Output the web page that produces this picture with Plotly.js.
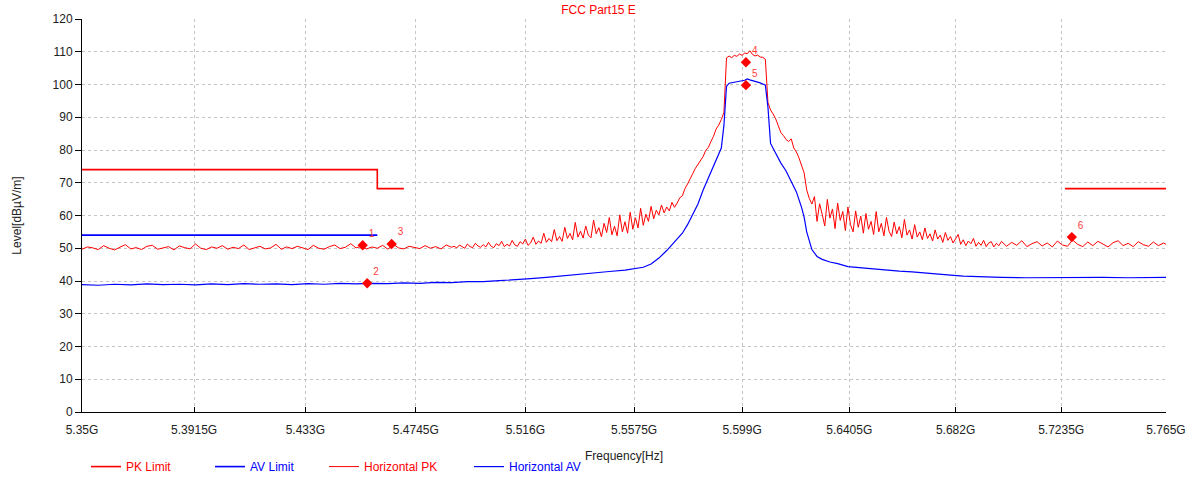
<!DOCTYPE html>
<html>
<head>
<meta charset="utf-8">
<script src="https://cdn.plot.ly/plotly-3.0.1.min.js"></script>
<style>
html,body{margin:0;padding:0;background:#fff;}
#chart{width:1197px;height:477px;}
</style>
</head>
<body>
<div id="chart"></div>
<script>
// ---- Axis ticks (frequency in MHz, log axis) ----
const xTickVals = [5350, 5391.5, 5433, 5474.5, 5516, 5557.5, 5599, 5640.5, 5682, 5723.5, 5765];
const xTickText = ['5.35G','5.3915G','5.433G','5.4745G','5.516G','5.5575G','5.599G','5.6405G','5.682G','5.7235G','5.765G'];

// ---- Limits ----
const pkLimitFreq  = [5350, 5460, 5460, 5470, null, 5725, 5765];
const pkLimitLevel = [74, 74, 68.2, 68.2, null, 68.2, 68.2];
const avLimitFreq  = [5350, 5460];
const avLimitLevel = [54, 54];

// ---- Horizontal PK, in regions ----
const pkFreqA = [
5350,5352,5354,5356,5358,5360,5362,5364,5366,5368,
5370,5372,5374,5376,5378,5380,5382,5384,5386,5388,
5390,5392,5394,5396,5398,5400,5402,5404,5406,5408,
5410,5412,5414,5416,5418,5420,5422,5424,5426,5428,
5430,5432,5434,5436,5438,5440,5442,5444,5446,5448,
5450,5452,5454,5456,5458,5460,5462,5464,5466,5468,
5470,5472,5474,5476,5478,5480,5482,5484,5486,5488];
const pkLevelA = [
49.7,50.4,50.1,49.6,50.8,50.0,49.5,50.3,51.1,49.8,
50.2,49.6,50.6,50.9,49.7,50.1,50.5,49.5,50.7,50.2,
49.8,51.3,50.0,49.6,50.4,50.0,50.8,49.7,50.3,49.9,
51.0,49.6,50.2,50.6,49.8,50.1,51.2,49.7,50.4,49.9,
50.6,50.2,49.6,50.9,50.0,49.7,50.5,51.0,49.9,50.3,
51.4,50.1,50.6,49.8,50.4,50.0,50.9,49.7,51.2,50.1,
49.8,50.6,50.2,49.9,50.8,50.0,50.5,49.8,51.0,50.3];

const pkFreqB = [
5489,5490,5491,5492,5493,5494,5495,5496,5497,5498,
5499,5500,5501,5502,5503,5504,5505,5506,5507,5508,
5509,5510,5511,5512,5513,5514,5515,5516,5517,5518,
5519,5520,5521,5522,5523,5524,5525,5526,5527,5528,
5529,5530,5531,5532,5533,5534,5535,5536,5537,5538,
5539,5540,5541,5542,5543,5544,5545,5546,5547,5548,
5549,5550,5551,5552,5553,5554,5555,5556,5557,5558,
5559,5560,5561,5562,5563,5564,5565,5566,5567,5568,
5569,5570,5571,5572,5573,5574,5575,5576,5577,5578];
const pkLevelB = [
50.6,50.1,51.0,50.4,50.0,51.3,50.5,50.2,51.5,50.7,
50.3,51.1,50.4,51.8,50.6,50.2,51.4,50.8,52.1,50.5,
51.2,50.7,52.4,51.0,50.6,52.0,51.3,52.8,50.9,51.6,
53.4,51.2,52.2,51.5,54.6,51.8,53.0,52.0,55.7,52.3,
53.6,52.1,56.4,53.0,54.5,52.6,57.9,53.4,55.2,53.1,
56.8,54.0,53.2,58.6,54.4,56.3,53.5,57.6,54.8,59.4,
54.1,56.7,53.8,60.2,55.0,58.1,54.6,61.0,55.8,59.3,
56.2,62.2,57.0,60.4,58.2,62.8,59.0,61.6,60.2,63.2,
60.8,62.6,61.4,64.0,62.5,63.8,65.4,66.0,68.2,69.6];

const pkFreqC = [
5579,5580,5581,5582,5583,5584,5585,5586,5587,5588,
5589,5590,5591,5592,5593,5594,5595,5596,5597,5598,
5599,5600,5601,5602,5603,5604,5605,5606,5607,5608,
5609,5610,5611,5612,5613,5614,5615,5616,5617,5618,
5619,5620,5621,5622,5623,5624,5625,5626];
const pkLevelC = [
71.5,72.8,74.4,75.6,77.2,78.0,79.9,80.8,82.6,84.2,
86.4,87.6,89.3,91.5,108.1,108.7,108.2,108.9,108.6,109.3,
108.9,109.6,109.4,110.3,109.2,108.7,109.0,108.4,108.3,107.7,
94.5,92.2,91.0,89.5,87.4,85.3,84.4,83.2,82.6,83.4,
80.6,79.4,77.6,75.2,73.0,67.8,65.2,63.5];

const pkFreqD = [
5627,5628,5629,5630,5631,5632,5633,5634,5635,5636,
5637,5638,5639,5640,5641,5642,5643,5644,5645,5646,
5647,5648,5649,5650,5651,5652,5653,5654,5655,5656,
5657,5658,5659,5660,5661,5662,5663,5664,5665,5666,
5667,5668,5669,5670,5671,5672,5673,5674,5675,5676,
5677,5678,5679,5680,5681,5682,5683,5684,5685,5686,
5687,5688,5689,5690,5691,5692,5693,5694,5695,5696,
5697,5698,5699,5700];
const pkLevelD = [
65.8,58.2,63.6,60.4,56.8,64.9,59.2,62.0,56.0,63.8,
58.5,61.2,55.4,62.6,57.2,55.0,61.4,56.4,59.8,54.6,
60.6,55.8,58.2,54.2,61.2,55.0,57.6,53.8,59.4,55.2,
53.6,58.0,54.4,56.6,53.2,58.8,54.0,55.6,52.8,57.2,
53.4,55.0,52.6,56.2,53.0,54.4,52.2,55.6,52.8,54.0,
51.8,54.8,52.4,53.6,51.6,52.9,54.2,51.2,52.6,50.8,
52.2,51.4,53.0,50.6,51.8,50.9,52.4,50.5,51.6,52.0,
50.4,51.5,50.8,52.1];

const pkFreqE = [
5702,5704,5706,5708,5710,5712,5714,5716,5718,5720,
5722,5724,5726,5728,5730,5732,5734,5736,5738,5740,
5742,5744,5746,5748,5750,5752,5754,5756,5758,5760,
5762,5764,5765];
const pkLevelE = [
50.6,51.8,50.9,52.3,50.5,51.4,52.0,50.7,51.6,50.4,
52.2,51.0,50.6,52.5,51.2,50.5,51.9,50.8,52.1,51.3,
50.4,51.7,52.3,50.8,51.5,50.5,52.0,51.1,50.6,51.9,
50.8,51.6,51.2];

// ---- Horizontal AV ----
const avFreq = [
5350,5356,5362,5368,5374,5380,5386,5392,5398,5404,5410,5416,5422,5428,5434,5440,5446,5452,5458,5464,
5470,5476,5482,5488,5494,5500,5506,5512,5518,5524,5530,5536,5542,5548,5554,5558,5561,5564,5567,5570,
5573,5576,5578,5580,5582,5584,5586,5588,5590,5591,5592,5593,5594,5596,5598,5600,5601,5602,5604,5606,
5608,5609,5610,5611,5612,5614,5616,5618,5620,5622,5623,5624,5625,5626,5628,5630,5633,5636,5640,5645,
5650,5655,5660,5665,5670,5675,5680,5685,5690,5695,5700,5710,5720,5730,5740,5750,5765];
const avLevel = [
38.9,38.7,39.0,38.8,39.1,38.9,39.0,38.8,39.1,38.9,39.2,39.0,39.1,38.9,39.2,39.0,39.3,39.1,39.3,39.2,
39.4,39.3,39.6,39.5,39.8,39.8,40.1,40.3,40.7,41.1,41.6,42.1,42.5,42.9,43.3,43.7,44.2,45.2,47.0,49.3,
51.8,54.6,57.2,60.2,63.5,67.8,71.4,75.2,78.6,80.6,87.5,99.4,100.4,100.6,101.0,101.3,101.7,101.4,101.0,100.5,
99.8,93.0,82.0,80.5,78.6,76.0,73.6,70.6,67.2,62.5,59.5,55.0,52.0,49.6,47.5,46.6,45.8,45.3,44.4,44.0,
43.6,43.3,43.0,42.8,42.4,42.0,41.8,41.5,41.3,41.2,41.1,41.0,41.1,41.0,41.1,41.0,41.1];

// ---- Markers ----
const markerFreq  = [5454.5, 5456.2, 5465.4, 5600.5, 5600.5, 5727.7];
const markerLevel = [50.9, 39.3, 51.3, 106.8, 99.8, 53.4];
const markerLabel = ['1','2','3','4','5','6'];

const pkFreq  = [].concat(pkFreqA, pkFreqB, pkFreqC, pkFreqD, pkFreqE);
const pkLevel = [].concat(pkLevelA, pkLevelB, pkLevelC, pkLevelD, pkLevelE);

const RED = 'rgb(255,0,0)', BLUE = 'rgb(0,0,255)';
const FONT = 'Liberation Sans, Arial, sans-serif';

const traces = [
  {x: pkLimitFreq, y: pkLimitLevel, type:'scatter', mode:'lines', connectgaps:false, legend:'legend',
   name:'<span style="color:rgb(255,0,0)">PK Limit</span>', line:{color:RED, width:1.6}},
  {x: avLimitFreq, y: avLimitLevel, type:'scatter', mode:'lines', legend:'legend2',
   name:'<span style="color:rgb(0,0,255)">AV Limit</span>', line:{color:BLUE, width:1.6}},
  {x: pkFreq, y: pkLevel, type:'scatter', mode:'lines', legend:'legend3',
   name:'<span style="color:rgb(255,0,0)">Horizontal PK</span>', line:{color:RED, width:1}},
  {x: avFreq, y: avLevel, type:'scatter', mode:'lines', legend:'legend4',
   name:'<span style="color:rgb(0,0,255)">Horizontal AV</span>', line:{color:BLUE, width:1.2}},
  {x: markerFreq, y: markerLevel, type:'scatter', mode:'markers+text', showlegend:false,
   text: markerLabel, textposition:'top right',
   textfont:{family:FONT, size:10, color:'rgb(255,60,60)'},
   marker:{symbol:'diamond', size:8, color:RED}}
];

function legendAt(symbolPx){
  return {orientation:'h', x:(symbolPx - 6 - 82)/1084, xanchor:'left', y:-0.102, yanchor:'top',
          font:{family:FONT, size:12}, bgcolor:'rgba(0,0,0,0)'};
}

const layout = {
  width:1197, height:477,
  margin:{l:82, r:31, t:19, b:65, autoexpand:false},
  paper_bgcolor:'#fff', plot_bgcolor:'#fff',
  font:{family:FONT, size:12, color:'#222'},
  title:{text:'FCC Part15 E', font:{family:FONT, size:12, color:RED}, x:0.5, xanchor:'center', y:0.979, yanchor:'middle'},
  xaxis:{
    type:'log', range:[Math.log10(5350), Math.log10(5765)],
    tickmode:'array', tickvals:xTickVals, ticktext:xTickText,
    showgrid:true, gridcolor:'#c4c4c4', griddash:'dot', gridwidth:1,
    showline:true, linecolor:'#000', linewidth:1,
    ticks:'inside', ticklen:5, tickcolor:'#000',
    ticklabelstandoff:7,
    tickfont:{family:FONT, size:12, color:'#222'},
    zeroline:false, automargin:false,
    title:{text:'Frequency[Hz]', font:{family:FONT, size:12, color:'#222'}, standoff:15}
  },
  yaxis:{
    range:[0,120], tick0:0, dtick:10,
    showgrid:true, gridcolor:'#c4c4c4', griddash:'dot', gridwidth:1,
    showline:true, linecolor:'#000', linewidth:1,
    ticks:'outside', ticklen:6, tickcolor:'#000',
    tickfont:{family:FONT, size:12, color:'#222'},
    zeroline:false, automargin:false,
    title:{text:'Level[dBµV/m]', font:{family:FONT, size:12, color:'#222'}, standoff:28}
  },
  showlegend:true,
  legend:  legendAt(92),
  legend2: legendAt(216),
  legend3: legendAt(330),
  legend4: legendAt(475),
  hovermode:false
};

Plotly.newPlot('chart', traces, layout, {staticPlot:true, displayModeBar:false});
</script>
</body>
</html>
